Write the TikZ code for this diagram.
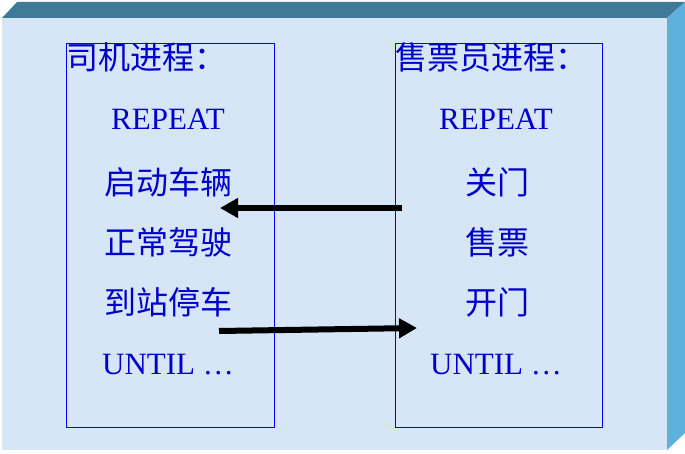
\documentclass[tikz,border=0pt]{standalone}
\usepackage{fontspec}
\setmainfont{Liberation Serif}
\newfontfamily\cjk{Noto Sans CJK SC}
\usetikzlibrary{arrows.meta}
\definecolor{facefill}{HTML}{D6E6F6}
\definecolor{topfill}{HTML}{3F7B99}
\definecolor{sidefill}{HTML}{5DB1DC}
\definecolor{textblue}{HTML}{0000CC}
\tikzset{
  proc/.style={draw=blue,line width=0.8pt},
  word/.style={text=textblue,font=\fontsize{31}{35}\selectfont,inner sep=0pt},
  hanzi/.style={word,font=\fontsize{32}{36}\selectfont\cjk},
  signal/.style={line width=6pt,-{Triangle[length=18pt,width=19pt]}}
}
\begin{document}
\begin{tikzpicture}[x=1pt,y=-1pt]
  \useasboundingbox (0,0) rectangle (685,454);
  % box
  \fill[facefill] (2,18) rectangle (667,450);
  \fill[topfill] (2,18) -- (17,2) -- (685,2) -- (667,18) -- cycle;
  \fill[sidefill] (667,18) -- (685,2) -- (685,433) -- (667,450) -- cycle;

  % driver
  \draw[proc] (66,43) rectangle (274,427);
  \node[hanzi,anchor=west] (dtitle) at (66,57) {司机进程：};
  \node[word] (drep) at (168,119) {REPEAT};
  \node[hanzi] (dstart) at (168,182) {启动车辆};
  \node[hanzi] (drun) at (168,242) {正常驾驶};
  \node[hanzi] (dstop) at (168,302) {到站停车};
  \node[word] (duntil) at (168,365) {UNTIL …};

  % conductor
  \draw[proc] (395,43) rectangle (602,427);
  \node[hanzi,anchor=west] (ctitle) at (395,57) {售票员进程：};
  \node[word] (crep) at (496,119) {REPEAT};
  \node[hanzi] (cclose) at (497,182) {关门};
  \node[hanzi] (csell) at (497,242) {售票};
  \node[hanzi] (copen) at (497,302) {开门};
  \node[word] (cuntil) at (496,365) {UNTIL …};

  \coordinate (s1) at (402,208);
  \coordinate (r1) at (220,208);
  \coordinate (s2) at (219,331);
  \coordinate (r2) at (417,328);
  \draw[signal] (s1) -- (r1);
  \draw[signal] (s2) -- (r2);
\end{tikzpicture}
\end{document}
